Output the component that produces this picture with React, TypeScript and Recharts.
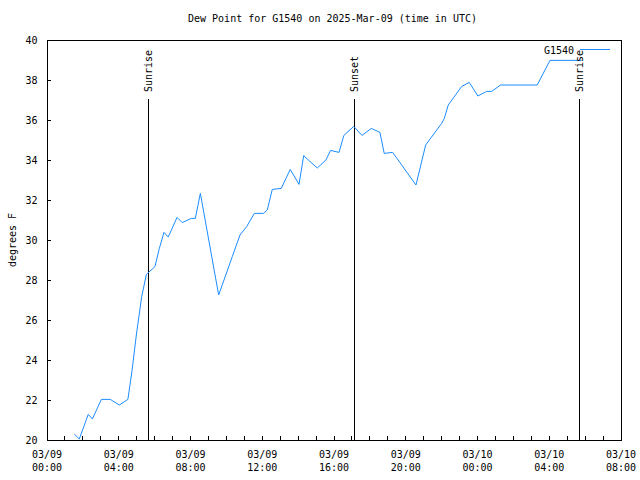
import React from 'react';
import {
  LineChart,
  Line,
  XAxis,
  YAxis,
  ReferenceLine,
  ReferenceArea,
  ReferenceDot,
  Legend,
} from 'recharts';

const FONT = '"DejaVu Sans Mono", "Liberation Mono", monospace';
const BLUE = '#1a8cff';

// hours since 03/09 00:00 UTC
const hours = [
  1.52, 1.8, 2.3, 2.53, 3.03, 3.53, 4.03, 4.51, 4.74, 4.98, 5.28, 5.54, 6.02, 6.26, 6.52,
  6.76, 7.25, 7.54, 8.04, 8.27, 8.55, 9.57, 10.33, 10.76, 11.13, 11.56, 12.06, 12.28, 12.56,
  13.06, 13.56, 14.05, 14.31, 14.57, 15.07, 15.55, 15.81, 16.28, 16.55, 17.1, 17.56, 18.08,
  18.56, 18.8, 19.27, 20.57, 21.11, 22.0, 22.15, 22.37, 23.11, 23.54, 24.02, 24.51, 24.79,
  25.29, 27.33, 28.04, 29.8,
];
// dew point, degrees F
const dewPoint = [
  20.3, 20.05, 21.28, 21.05, 22.03, 22.03, 21.75, 22.03, 23.47, 25.25, 27.17, 28.28, 28.67,
  29.57, 30.38, 30.15, 31.13, 30.87, 31.08, 31.08, 32.33, 27.25, 29.17, 30.25, 30.67, 31.33,
  31.33, 31.5, 32.53, 32.58, 33.53, 32.78, 34.22, 34.0, 33.6, 34.0, 34.48, 34.38, 35.23,
  35.68, 35.23, 35.58, 35.38, 34.33, 34.38, 32.75, 34.75, 35.83, 36.08, 36.75, 37.67, 37.88,
  37.2, 37.43, 37.43, 37.75, 37.75, 38.98, 38.98,
];

const hourTicks = Array.from({ length: 33 }, (_, i) => i);
const majorHours = [0, 4, 8, 12, 16, 20, 24, 28, 32];
const dateLabels = ['03/09', '03/09', '03/09', '03/09', '03/09', '03/09', '03/10', '03/10', '03/10'];
const timeLabels = ['00:00', '04:00', '08:00', '12:00', '16:00', '20:00', '00:00', '04:00', '08:00'];
const yTicks = [20, 22, 24, 26, 28, 30, 32, 34, 36, 38, 40];

const sunHours = [5.66, 17.14, 29.68];
const sunLabels = ['Sunrise', 'Sunset', 'Sunrise'];
const sunLineTop = 37.05;

const data = hours.map((h, i) => ({ h, v: dewPoint[i] }));

const BottomTick = (props: any) => {
  const { x, y, payload } = props;
  const idx = majorHours.indexOf(payload.value);
  return (
    <g>
      <line x1={x} y1={y} x2={x} y2={y - 4} stroke="#000" shapeRendering="crispEdges" />
      {idx >= 0 && (
        <text x={x} y={y} textAnchor="middle" fontFamily={FONT} fontSize={10} fill="#000">
          <tspan x={x} dy={17.5}>{dateLabels[idx]}</tspan>
          <tspan x={x} dy={13}>{timeLabels[idx]}</tspan>
        </text>
      )}
    </g>
  );
};

const TopTick = (props: any) => {
  const { x, y } = props;
  return <line x1={x} y1={y} x2={x} y2={y + 4} stroke="#000" shapeRendering="crispEdges" />;
};

const LeftTick = (props: any) => {
  const { x, y, payload } = props;
  return (
    <g>
      <line x1={x} y1={y} x2={x + 4} y2={y} stroke="#000" shapeRendering="crispEdges" />
      <text x={x - 9.5} y={y + 3.6} textAnchor="end" fontFamily={FONT} fontSize={10} fill="#000">
        {payload.value}
      </text>
    </g>
  );
};

const RightTick = (props: any) => {
  const { x, y } = props;
  return <line x1={x} y1={y} x2={x - 4} y2={y} stroke="#000" shapeRendering="crispEdges" />;
};

const sunLabelRenderer = (text: string) => (props: any) => {
  const vb = props.viewBox || {};
  const cx = vb.x + (vb.width || 0) / 2;
  const cy = vb.y + (vb.height || 0) / 2;
  return (
    <text
      transform={`translate(${cx},${cy - 7}) rotate(-90)`}
      x={0}
      y={3.6}
      textAnchor="start"
      fontFamily={FONT}
      fontSize={10}
      fill="#000"
    >
      {text}
    </text>
  );
};

const yLabel = () => (
  <text
    transform="translate(16,240) rotate(-90)"
    textAnchor="middle"
    fontFamily={FONT}
    fontSize={10}
    fill="#000"
  >
    degrees F
  </text>
);

const renderLegend = () => (
  <div style={{ position: 'relative', width: 80, height: 14, fontFamily: FONT, fontSize: 10, color: '#000' }}>
    <span style={{ position: 'absolute', right: 41, top: 3, lineHeight: '12px', whiteSpace: 'nowrap' }}>G1540</span>
    <svg width={30} height={14} style={{ position: 'absolute', right: 5, top: 0 }}>
      <line x1={0} y1={7.5} x2={30} y2={7.5} stroke={BLUE} strokeWidth={1} />
    </svg>
  </div>
);

export default function App() {
  return (
    <div style={{ position: 'absolute', left: 0, top: 0, width: 640, height: 480, background: '#fff' }}>
      <div
        style={{
          position: 'absolute',
          left: 188,
          top: 13,
          fontFamily: FONT,
          fontSize: 10,
          lineHeight: '12px',
          whiteSpace: 'nowrap',
          color: '#000',
        }}
      >
        Dew Point for G1540 on 2025-Mar-09 (time in UTC)
      </div>
      <LineChart width={640} height={480} data={data} margin={{ top: 40, right: 19, bottom: 0, left: 0 }}>
        <XAxis
          dataKey="h"
          type="number"
          domain={[0, 32]}
          ticks={hourTicks}
          interval={0}
          allowDataOverflow
          height={40}
          tickSize={0}
          tickMargin={0}
          axisLine={false}
          tickLine={false}
          tick={<BottomTick />}
        />
        <XAxis
          xAxisId="top"
          orientation="top"
          type="number"
          domain={[0, 32]}
          ticks={hourTicks}
          interval={0}
          allowDataOverflow
          height={0}
          tickSize={0}
          tickMargin={0}
          axisLine={false}
          tickLine={false}
          tick={<TopTick />}
        />
        <YAxis
          type="number"
          domain={[20, 40]}
          ticks={yTicks}
          interval={0}
          allowDataOverflow
          width={47}
          tickSize={0}
          tickMargin={0}
          axisLine={false}
          tickLine={false}
          tick={<LeftTick />}
          label={yLabel}
        />
        <YAxis
          yAxisId="r"
          orientation="right"
          type="number"
          domain={[20, 40]}
          ticks={yTicks}
          interval={0}
          allowDataOverflow
          width={0}
          tickSize={0}
          tickMargin={0}
          axisLine={false}
          tickLine={false}
          tick={<RightTick />}
        />
        <ReferenceArea
          x1={0}
          x2={32}
          y1={20}
          y2={40}
          fill="none"
          fillOpacity={0}
          stroke="#000"
          strokeWidth={1}
          shapeRendering="crispEdges"
          ifOverflow="visible"
        />
        {sunHours.map((h, i) => (
          <ReferenceLine
            key={`sl${i}`}
            segment={[
              { x: h, y: 20 },
              { x: h, y: sunLineTop },
            ]}
            stroke="#000"
            strokeWidth={1}
            shapeRendering="crispEdges"
          />
        ))}
        {sunHours.map((h, i) => (
          <ReferenceDot
            key={`sd${i}`}
            x={h}
            y={sunLineTop}
            r={0}
            fill="none"
            stroke="none"
            label={sunLabelRenderer(sunLabels[i])}
          />
        ))}
        <Line
          type="linear"
          dataKey="v"
          stroke={BLUE}
          strokeWidth={1}
          dot={false}
          activeDot={false}
          isAnimationActive={false}
        />
        <Legend
          layout="horizontal"
          verticalAlign="middle"
          align="center"
          content={renderLegend}
          wrapperStyle={{ position: 'absolute', left: 535, top: 42, width: 80, height: 14 }}
        />
      </LineChart>
    </div>
  );
}
